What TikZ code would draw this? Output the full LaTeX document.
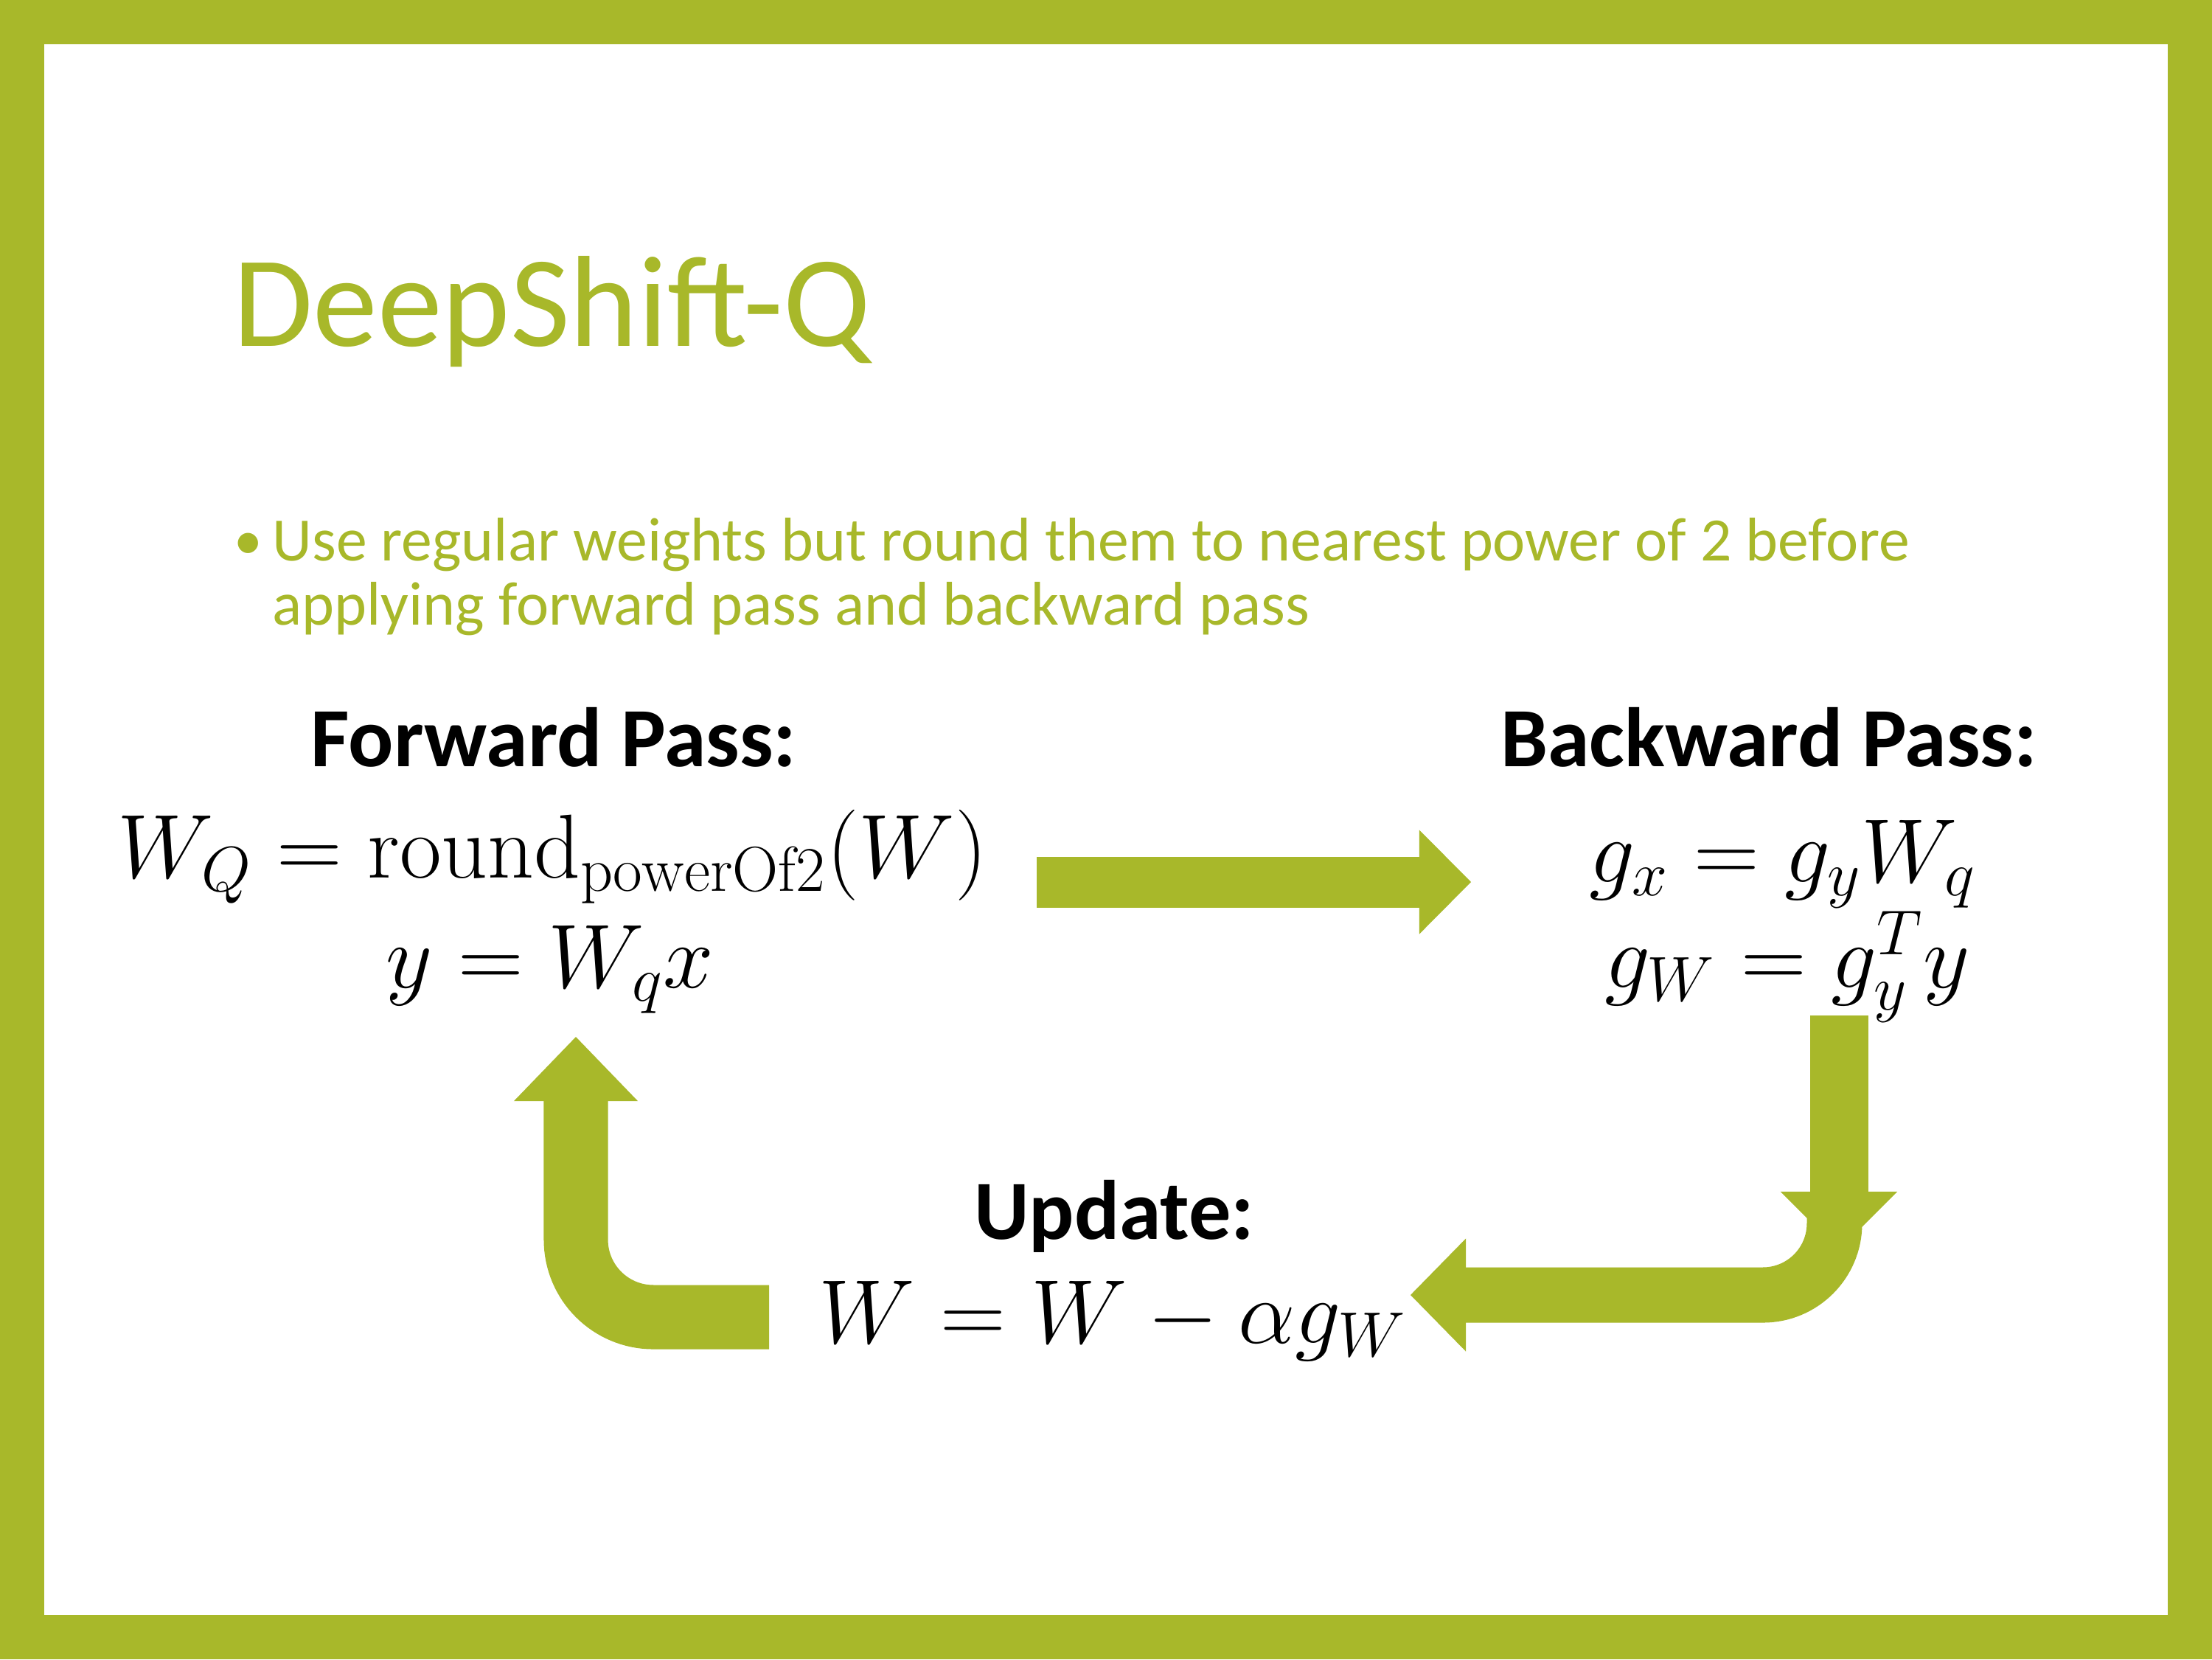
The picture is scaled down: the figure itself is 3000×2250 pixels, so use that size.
\RequirePackage{fix-cm}
\documentclass[tikz,border=0pt]{standalone}
\usepackage{fontspec}
\setsansfont{Carlito}
\usetikzlibrary{arrows.meta}
\definecolor{olive}{HTML}{A8B82A}
\definecolor{ink}{HTML}{000000}

\begin{document}
\begin{tikzpicture}[x=0.01cm,y=-0.01cm,font=\sffamily,text=ink,
    heading/.style={anchor=base,inner sep=0pt,
      font=\sffamily\bfseries\fontsize{32.5}{39}\selectfont},
    eqn/.style={anchor=base,inner sep=0pt,font=\fontsize{35}{42}\selectfont},
    bodytext/.style={anchor=base west,inner sep=0pt,text=olive,
      font=\sffamily\fontsize{23.8}{29}\selectfont},
    blockarrow/.style={draw=olive,line cap=butt}]
  \useasboundingbox (0,0) rectangle (3000,2250);

  % slide frame
  \fill[olive] (0,0) rectangle (3000,2250);
  \fill[white] (60,60) rectangle (2940,2190);

  \node[anchor=base west,inner sep=0pt,text=olive,
        font=\sffamily\fontsize{50}{60}\selectfont] (title) at (316,469)
    {DeepShift-Q};

  \node[anchor=base,inner sep=0pt,text=olive,
        font=\sffamily\fontsize{22}{26}\selectfont] (dot) at (337,758) {•};
  \node[bodytext] (line1) at (369,760)
    {Use regular weights but round them to nearest power of 2 before};
  \node[bodytext] (line2) at (369,847)
    {applying forward pass and backward pass};

  % forward pass
  \node[heading] (fwdhead) at (751,1039) {Forward Pass:};
  \node[eqn] (fwdq) at (749,1190)
    {$W_Q = \mathrm{round}_{\mathrm{powerOf2}}(W)$};
  \node[eqn] (fwdy) at (746,1339) {$y = W_q x$};

  % backward pass
  \node[heading] (bwdhead) at (2399,1039) {Backward Pass:};
  \node[eqn] (bwdx) at (2418,1196) {$g_x = g_y W_q$};
  \node[eqn] (bwdw) at (2424,1339) {$g_W = g_y^T y$};

  % update
  \node[heading] (updhead) at (1511,1680) {Update:};
  \node[eqn] (upd) at (1509,1821) {$W = W - \alpha g_W$};

  % block arrows round the loop
  \draw[blockarrow,line width=0.69cm,
        -{Triangle[width=1.41cm,length=0.70cm,line width=0pt]}]
    (1406,1196) -- (1995,1196);
  \draw[blockarrow,line width=0.79cm,
        -{Triangle[width=1.58cm,length=0.79cm,line width=0pt]}]
    (2494,1377) -- (2494,1695);
  \draw[blockarrow,line width=0.75cm,rounded corners=0.97cm,
        -{Triangle[width=1.53cm,length=0.75cm,line width=0pt]}]
    (2488,1640) |- (1913,1756);
  \draw[blockarrow,line width=0.87cm,rounded corners=1.05cm,
        -{Triangle[width=1.68cm,length=0.87cm,line width=0pt]}]
    (1043,1786) -| (781,1406);
\end{tikzpicture}
\end{document}
